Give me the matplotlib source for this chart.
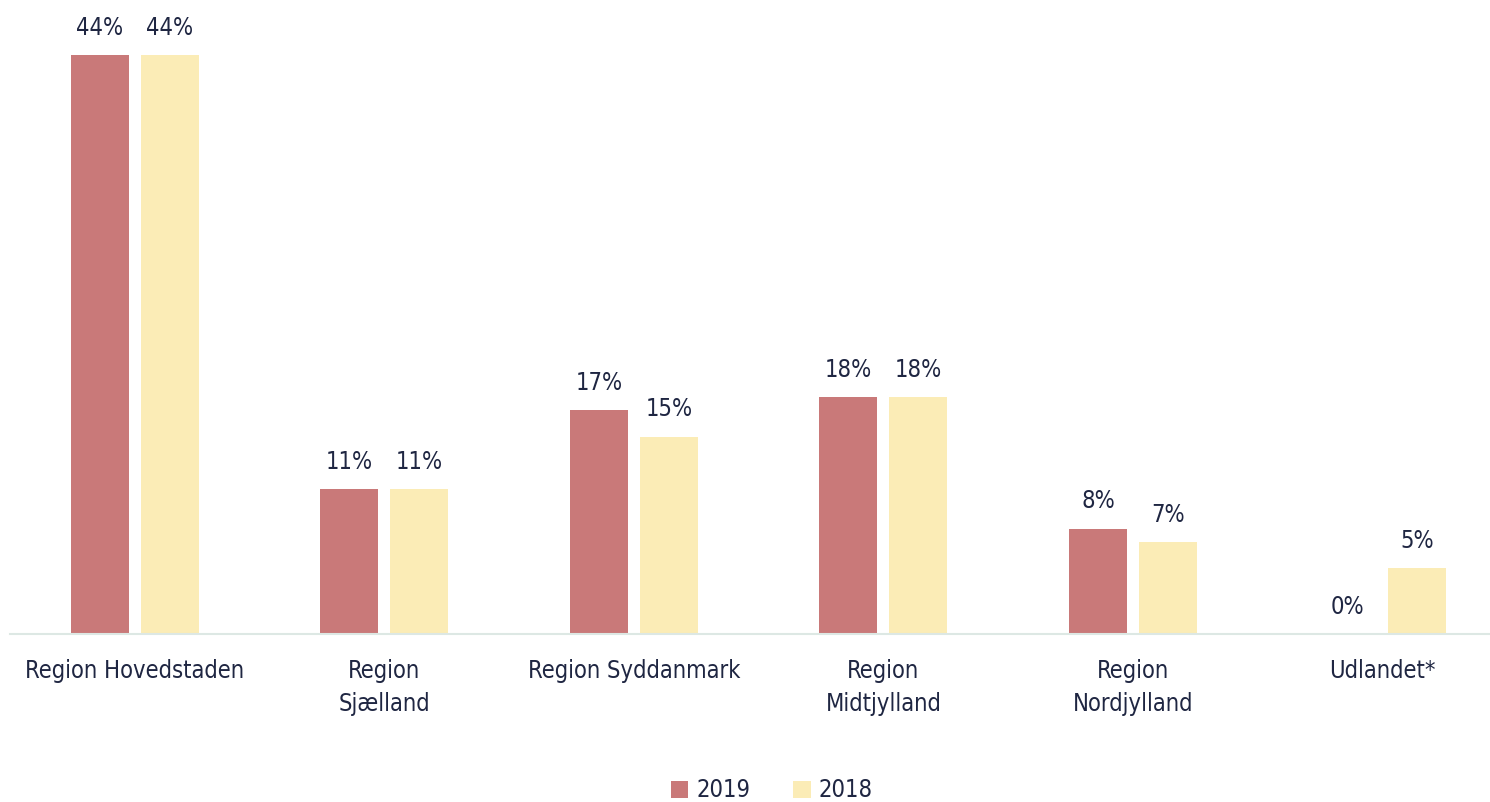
import numpy as np
import matplotlib.pyplot as plt

# data
regions = ['Region Hovedstaden', 'Region\nSjælland', 'Region Syddanmark',
           'Region\nMidtjylland', 'Region\nNordjylland', 'Udlandet*']
v2019 = [44, 11, 17, 18, 8, 0]
v2018 = [44, 11, 15, 18, 7, 5]

plt.rcParams['font.family'] = ['DejaVu Sans']
plt.rcParams['font.stretch'] = 'condensed'

txt = '#1f2642'
c19 = '#c97979'
c18 = '#fbecb6'

fig = plt.figure(figsize=(14.9, 8.02), dpi=100)
ax = fig.add_axes([10 / 1490, 168 / 802, 1480 / 1490, 634 / 802])

x = np.arange(len(regions))
w = 0.2325
off = 0.1403
b1 = ax.bar(x - off, v2019, w, color=c19, label='2019')
b2 = ax.bar(x + off, v2018, w, color=c18, label='2018')

for bars, vals in ((b1, v2019), (b2, v2018)):
    for r, v in zip(bars, vals):
        ax.annotate('%d%%' % v, (r.get_x() + r.get_width() / 2, v),
                    xytext=(0, 11), textcoords='offset points',
                    ha='center', va='bottom', fontsize=17, color=txt)

ax.set_xlim(-0.501, 5.431)
ax.set_ylim(0, 48.2)
ax.set_xticks(x)
ax.set_xticklabels(regions, fontsize=17, color=txt, linespacing=1.45)
ax.tick_params(axis='x', length=0, pad=18)
ax.set_yticks([])
for s in ['top', 'right', 'left']:
    ax.spines[s].set_visible(False)
ax.spines['bottom'].set_color('#dde8e4')
ax.spines['bottom'].set_linewidth(1.5)

leg = fig.legend(loc='lower center', bbox_to_anchor=(0.518, -0.027), ncol=2,
                 frameon=False, fontsize=17, handlelength=0.75, handleheight=0.75,
                 handletextpad=0.35, columnspacing=1.8)
for t in leg.get_texts():
    t.set_color(txt)

fig.savefig('out.png', dpi=100)
